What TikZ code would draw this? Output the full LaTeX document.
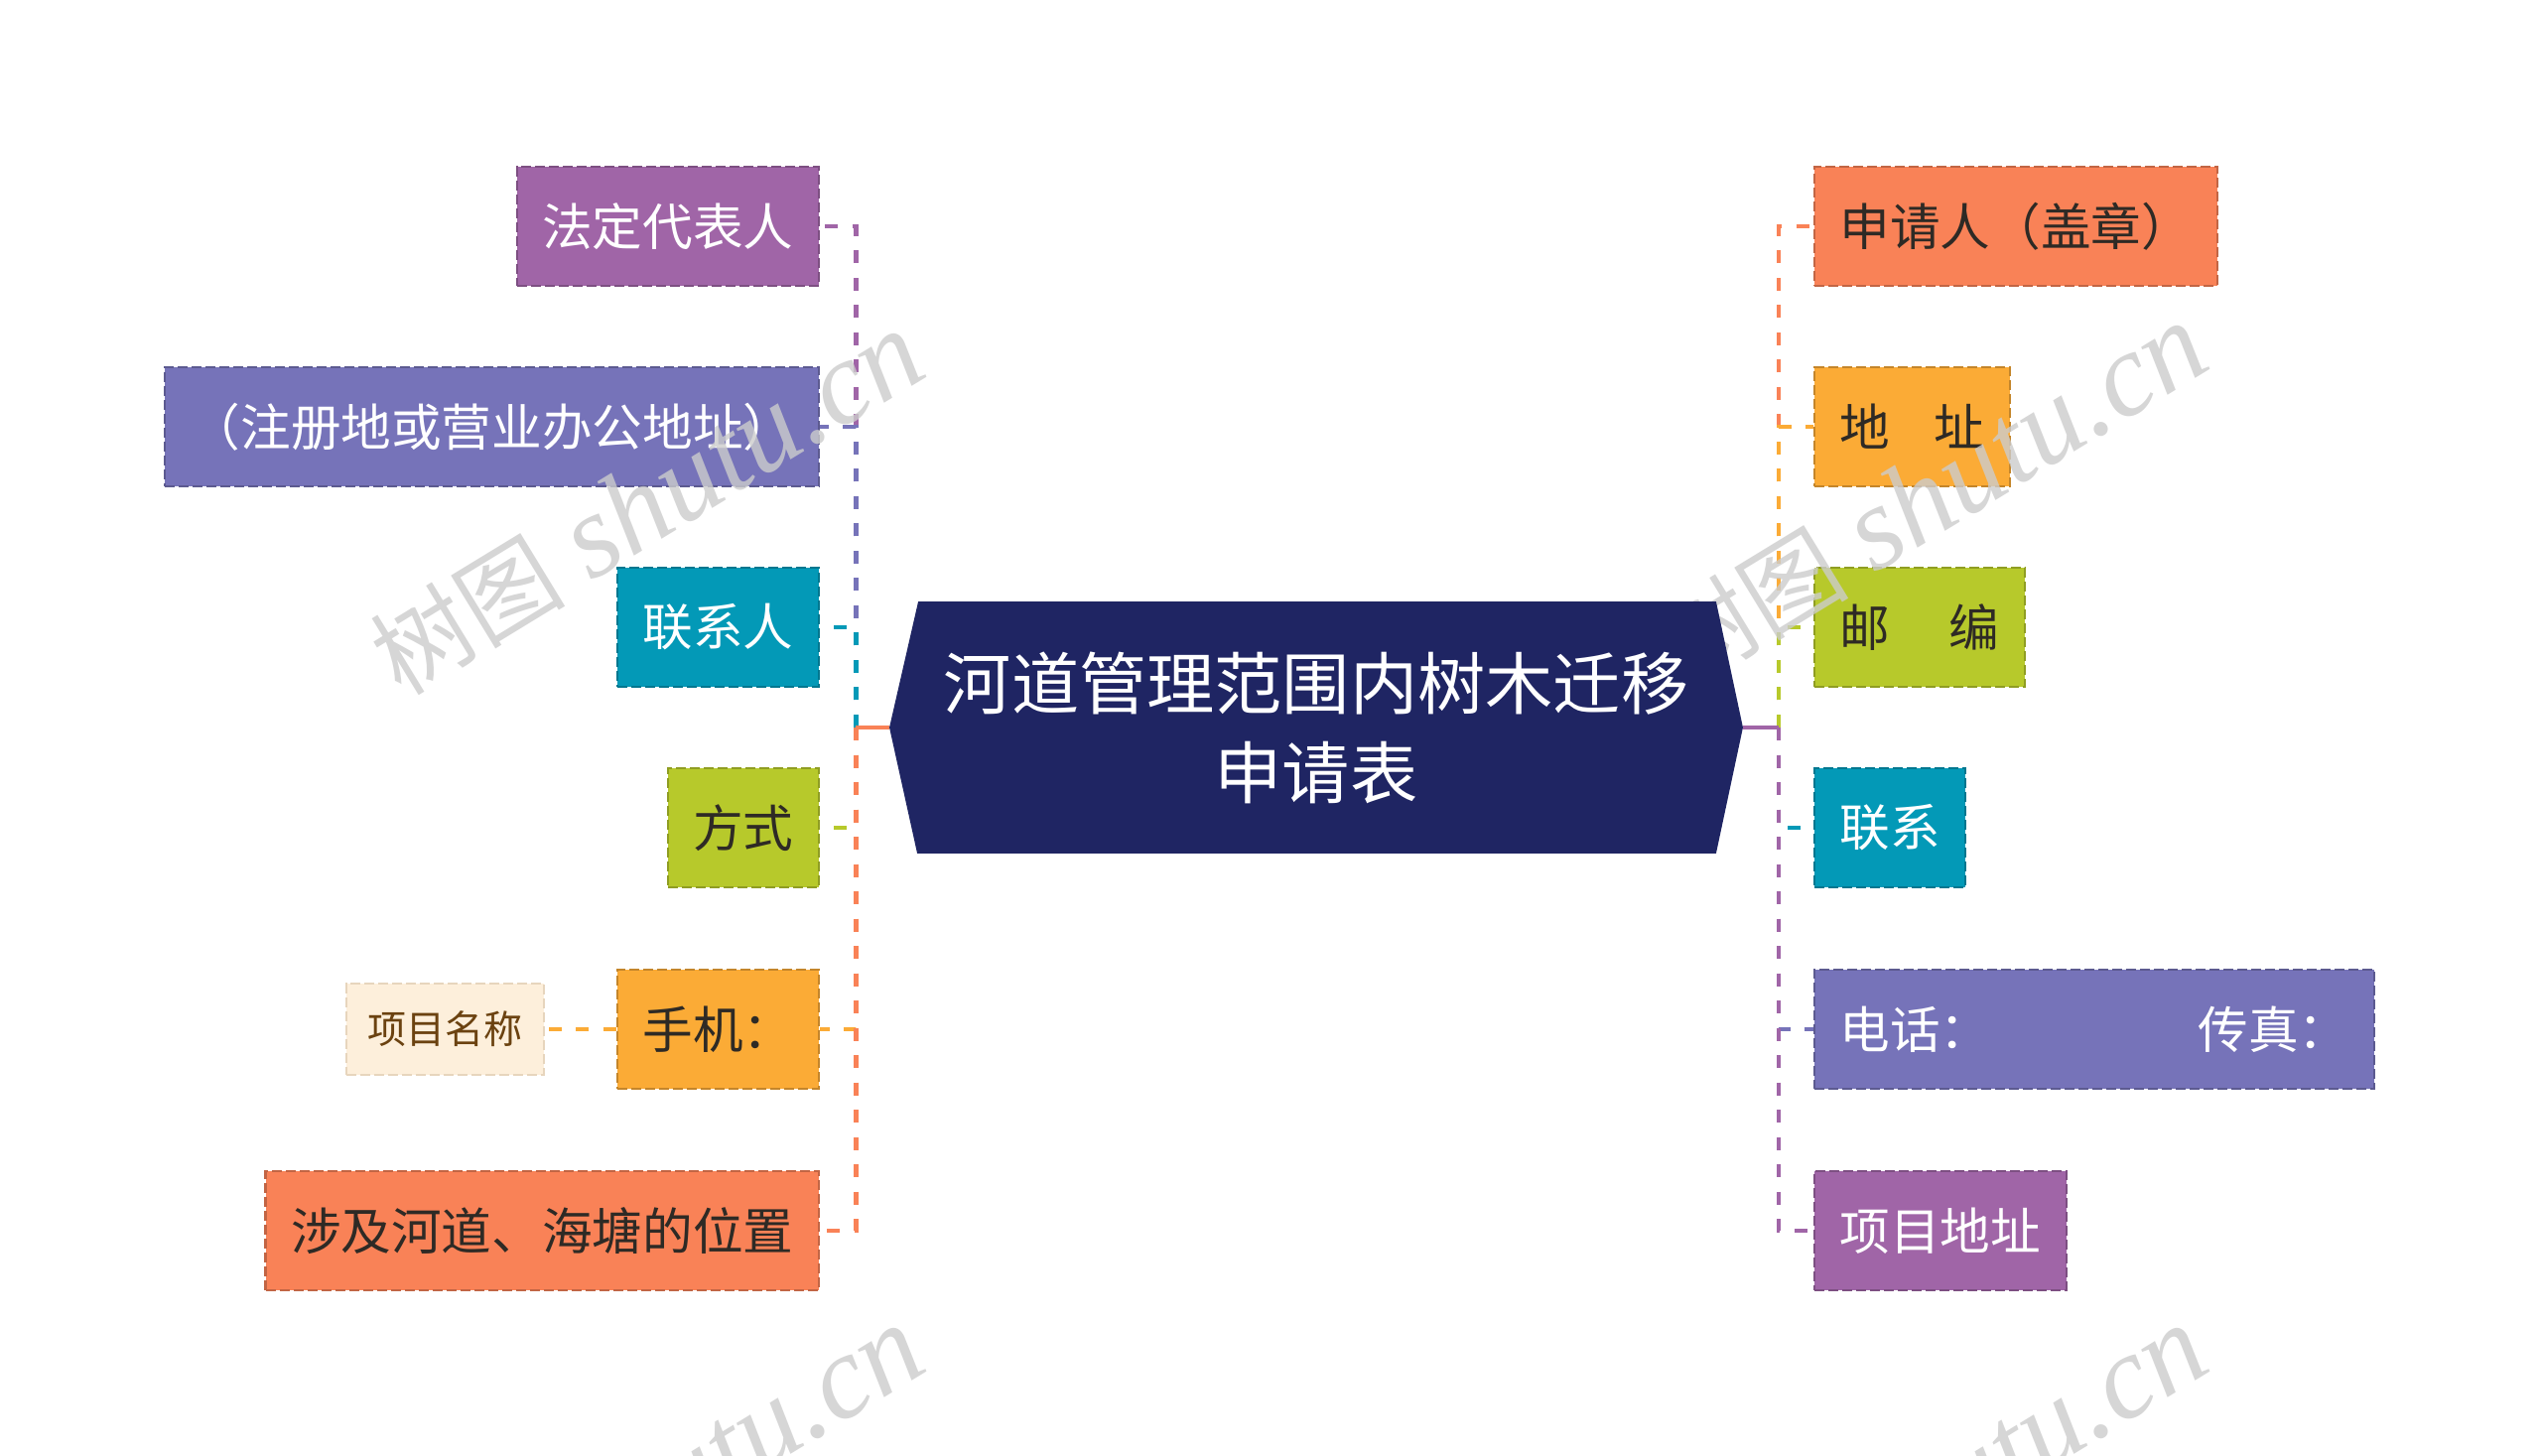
\documentclass[tikz,border=0pt]{standalone}
\usepackage{fontspec}
\setmainfont{Noto Sans CJK SC}
\newfontfamily\marklatin{Liberation Serif}
\usetikzlibrary{positioning, backgrounds}

\pgfdeclarelayer{marks}
\pgfdeclarelayer{rootfill}
\pgfdeclarelayer{front}
\pgfsetlayers{background,main,marks,rootfill,front}

\definecolor{coral}{HTML}{F98257}
\definecolor{amber}{HTML}{FBAB36}
\definecolor{lime}{HTML}{B7C92B}
\definecolor{teal2}{HTML}{0399B7}
\definecolor{lav}{HTML}{7673B9}
\definecolor{plum}{HTML}{A065A7}
\definecolor{navy}{HTML}{1F2563}
\definecolor{cream}{HTML}{FDEFDB}
\definecolor{umber}{HTML}{6B4210}
\definecolor{ink}{HTML}{2E2A25}

\tikzstyle{topic} = [rectangle, minimum height=1.2cm, inner xsep=0.255cm, text centered, line width=0.6pt, dash pattern=on 0.1cm off 0.04cm, font=\fontsize{14.4}{17}\selectfont]
\tikzstyle{lefttopic} = [topic, anchor=east]
\tikzstyle{righttopic} = [topic, anchor=west]
\tikzset{tint/.style={fill=#1, draw=#1!78!black}}
\tikzstyle{lighttext} = [text=white]
\tikzstyle{darktext} = [text=ink]
\tikzstyle{rootbox} = [rectangle, minimum width=8.58cm, minimum height=2.52cm, align=center, text=white, font=\fontsize{19.4}{25.6}\selectfont]
\tikzstyle{subtopic} = [rectangle, minimum height=0.92cm, inner xsep=0.215cm, fill=cream, draw=cream!85!umber, text=umber, line width=0.6pt, dash pattern=on 0.1cm off 0.04cm, font=\fontsize{11.1}{13}\selectfont]
\tikzstyle{branch} = [line width=1.4pt, dash pattern=on 0.13cm off 0.145cm]
\tikzstyle{stem} = [line width=1.4pt]
\tikzstyle{wmark} = [text=black!20, text opacity=0.8, rotate=31.4, font=\fontsize{34}{40}\selectfont]
\newcommand{\sitemark}{{\fontsize{28}{30}\selectfont 树图} {\marklatin\itshape shutu.cn}}

\begin{document}
\begin{tikzpicture}[x=0.01cm, y=-0.01cm]

\useasboundingbox (0,0) rectangle (2560,1467);

\begin{pgfonlayer}{front}
\node (root) [rootbox] at (1326,733) {河道管理范围内树木迁移\\申请表};
\end{pgfonlayer}
\coordinate [left=0.34cm of root] (lhub);
\coordinate [right=0.36cm of root] (rhub);

\node (faren) [lefttopic, tint=plum, lighttext] at (826,228) {法定代表人};
\node (zhuce) [lefttopic, tint=lav, lighttext] at (826,430) {（注册地或营业办公地址）};
\node (lianxiren) [lefttopic, tint=teal2, lighttext] at (826,632) {联系人};
\node (fangshi) [lefttopic, tint=lime, darktext] at (826,834) {方式};
\node (shouji) [lefttopic, tint=amber, darktext] at (826,1037) {手机：};
\node (xmmc) [subtopic, left=0.72cm of shouji] {项目名称};
\node (weizhi) [lefttopic, tint=coral, darktext] at (826,1240) {涉及河道、海塘的位置};

\node (shenqing) [righttopic, tint=coral, darktext] at (1827,228) {申请人（盖章）};
\node (dizhi) [righttopic, tint=amber, darktext] at (1827,430) {地\hspace{0.88em}址};
\node (youbian) [righttopic, tint=lime, darktext] at (1827,632) {邮\hspace{1.18em}编};
\node (lianxi) [righttopic, tint=teal2, lighttext] at (1827,834) {联系};
\node (dianhua) [righttopic, tint=lav, lighttext] at (1827,1037) {电话：\hspace{4.13em}传真：};
\node (xmdz) [righttopic, tint=plum, lighttext] at (1827,1240) {项目地址};

\begin{pgfonlayer}{background}
\fill [white] (0,0) rectangle (2560,1467);
\end{pgfonlayer}
\begin{pgfonlayer}{rootfill}
\fill [navy] (root.west) -- ([xshift=0.29cm]root.north west) -- ([xshift=-0.27cm]root.north east) -- (root.east) -- ([xshift=-0.27cm]root.south east) -- ([xshift=0.28cm]root.south west) -- cycle;
\end{pgfonlayer}

\draw [branch, plum] (lhub) |- (faren.east);
\draw [branch, lav] (lhub) |- (zhuce.east);
\draw [branch, teal2] (lhub) |- (lianxiren.east);
\draw [branch, lime] (lhub) |- (fangshi.east);
\draw [branch, amber] (lhub) |- (shouji.east);
\draw [branch, coral] (lhub) |- (weizhi.east);
\draw [stem, coral] (root.west) -- (lhub);
\draw [branch, amber, line width=1pt] (shouji.west) -- (xmmc.east);

\draw [branch, coral] (rhub) |- (shenqing.west);
\draw [branch, amber] (rhub) |- (dizhi.west);
\draw [branch, lime] (rhub) |- (youbian.west);
\draw [branch, teal2] (rhub) |- (lianxi.west);
\draw [branch, lav] (rhub) |- (dianhua.west);
\draw [branch, plum] (rhub) |- (xmdz.west);
\draw [stem, plum] (root.east) -- (rhub);

\begin{pgfonlayer}{marks}
\node (wm1) [wmark] at (652,508) {\sitemark};
\node (wm2) [wmark] at (1945,500) {\sitemark};
\node (wm3) [wmark] at (652,1510) {\sitemark};
\node (wm4) [wmark] at (1945,1510) {\sitemark};
\end{pgfonlayer}

\end{tikzpicture}
\end{document}
